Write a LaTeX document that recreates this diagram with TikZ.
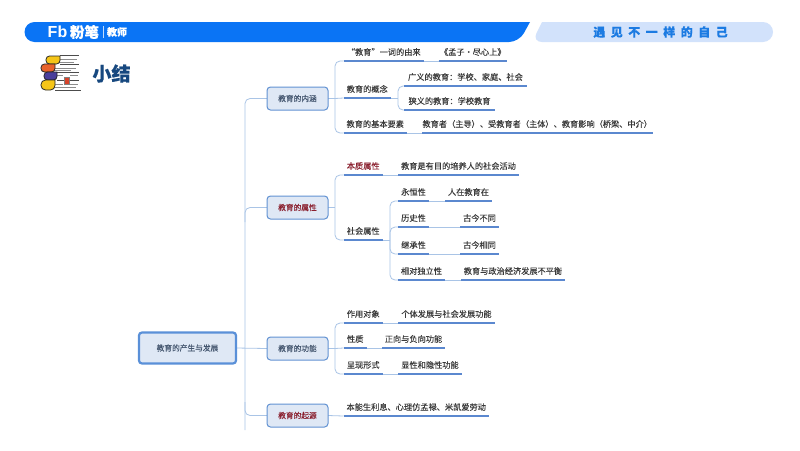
\documentclass[tikz,border=0pt]{standalone}
\usepackage{fontspec}
\setmainfont{Noto Sans CJK SC}[FakeBold=0.2]
\newfontfamily\latinbold{Liberation Sans}
\usetikzlibrary{calc}
\pgfdeclarelayer{connlayer}
\pgfsetlayers{connlayer,main}
\definecolor{brandblue}{HTML}{0A74F5}
\definecolor{lightbar}{HTML}{D2E2FB}
\definecolor{slogan}{HTML}{1C7BE2}
\definecolor{titleblue}{HTML}{17487F}
\definecolor{boxfill}{HTML}{DFE8F5}
\definecolor{boxline}{HTML}{6292D2}
\definecolor{rootline}{HTML}{5A90D8}
\definecolor{connline}{HTML}{A9C4E6}
\definecolor{uline}{HTML}{5B88CF}
\definecolor{leaftext}{HTML}{3A3A3A}
\definecolor{boxtext}{HTML}{44566F}
\definecolor{redtext}{HTML}{8A1F2E}
\definecolor{bookyellow}{HTML}{F5C518}
\definecolor{bookorange}{HTML}{E8622A}
\definecolor{bookpurple}{HTML}{4A3F9B}
\definecolor{bookred}{HTML}{D8432A}
\tikzset{
  x=1pt,y=-1pt,
  every node/.style={inner sep=0pt,outer sep=0pt},
  rootbox/.style={draw=rootline,line width=2.2pt,fill=boxfill,rounded corners=3pt,minimum width=97pt,minimum height=31pt,font=\fontsize{7.7}{9}\selectfont,text=boxtext},
  innerbox/.style={draw=boxline,line width=1pt,fill=boxfill,rounded corners=3.5pt,minimum width=61pt,minimum height=23pt,font=\fontsize{7.7}{9}\selectfont,text=boxtext},
  leafnode/.style={anchor=south west,minimum height=18pt,font=\fontsize{8.2}{10}\selectfont,text=leaftext},
  under/.style={draw=uline,line width=1.5pt},
  conn/.style={draw=connline,line width=0.8pt,rounded corners=5pt},
  pageline/.style={draw=black!70,line width=0.9pt},
  pagelight/.style={draw=black!45,line width=0.8pt},
  bookout/.style={draw=black!85,line width=0.8pt}
}
\newcommand{\leaf}[6][]{%
  \node[leafnode,minimum width=#4pt-#3pt,#1] (#2) at (#3,#5) {#6};
  \draw[under] (#2.south west) -- (#2.south east);
}
\begin{document}
\begin{tikzpicture}
\useasboundingbox (0,0) rectangle (800,450);
\begin{pgfonlayer}{connlayer}
\fill[white] (0,0) rectangle (800,450);
\end{pgfonlayer}
% header
\fill[brandblue] (530,22) [rounded corners=10pt] -- (24.5,22) -- (24.5,42) -- (519,42) [sharp corners] -- cycle;
\fill[lightbar] (542,22) [rounded corners=10pt] -- (773,22) -- (773,42) -- (532,42) [sharp corners] -- cycle;
\node[text=white,font=\latinbold\bfseries\fontsize{16}{16}\selectfont] (logoa) at (57.5,32) {Fb};
\node[text=white,font=\bfseries\fontsize{14.5}{14.5}\selectfont] (logob) at (84.5,32) {粉笔};
\node[fill=white!75!brandblue,minimum width=0.7pt,minimum height=12pt] (logoc) at (103,32) {};
\node[text=white,font=\bfseries\fontsize{10}{10}\selectfont] (logod) at (117,32) {教师};
\node[text=slogan,font=\bfseries\fontsize{12}{13}\selectfont] (slogan) at (660.5,32) {遇\hspace{5.5pt}见\hspace{5.5pt}不\hspace{5.5pt}一\hspace{5.5pt}样\hspace{5.5pt}的\hspace{5.5pt}自\hspace{5.5pt}己};
% icon
\draw[pagelight] (58,59)--(77,59) (58,62)--(74,62) (54,68)--(76,68) (54,70)--(71,70) (57,75)--(63,75) (70,75)--(78,75) (54,84)--(63,84) (70,84)--(78,84) (54,87)--(76,87);
\draw[pageline] (60,55.5)--(79,55.5) (60,64)--(79,64) (56,72)--(79,72) (57,80)--(79,80) (55,90)--(81,90);
\draw[bookout,fill=bookyellow] (60,56) [rounded corners=3.5pt] -- (46,56) -- (46,64) -- (60,64) [sharp corners] -- cycle;
\draw[bookout,fill=bookorange] (55,64) [rounded corners=3.5pt] -- (41,64) -- (41,72) -- (55,72) [sharp corners] -- cycle;
\draw[bookout,fill=bookpurple] (57,72) [rounded corners=3.5pt] -- (44,72) -- (44,80) -- (57,80) [sharp corners] -- cycle;
\draw[bookout,fill=bookyellow] (55,80) [rounded corners=4.5pt] -- (41,80) -- (41,90) -- (55,90) [sharp corners] -- cycle;
\draw[draw=black!50,fill=bookred,line width=0.8pt] (64,77.5) rectangle (69.5,84);
\node[text=titleblue,font=\bfseries\fontsize{19}{19}\selectfont] (title) at (111.5,73.5) {小结};
% boxes
\node[rootbox] (root) at (187.5,348) {教育的产生与发展};
\node[innerbox] (nei) at (297.5,98.5) {教育的内涵};
\node[innerbox,text=redtext] (shu) at (297.5,207.5) {教育的属性};
\node[innerbox] (gong) at (297.5,348.5) {教育的功能};
\node[innerbox,text=redtext] (qi) at (297.5,415.5) {教育的起源};
% leaves: inner
\leaf{a}{343.5}{424}{61}{“教育”一词的由来}
\leaf{aa}{438.5}{507}{61}{《孟子·尽心上》}
\leaf{b}{343.5}{391}{98}{教育的概念}
\leaf{ba}{404}{527}{86}{广义的教育：学校、家庭、社会}
\leaf{bb}{404}{495}{110}{狭义的教育：学校教育}
\leaf{c}{343.5}{407}{133}{教育的基本要素}
\leaf{ca}{422}{652.5}{133}{教育者（主导）、受教育者（主体）、教育影响（桥梁、中介）}
% leaves: properties
\leaf[text=redtext]{d}{343.5}{383}{175}{本质属性}
\leaf{da}{398}{519}{175}{教育是有目的培养人的社会活动}
\leaf{e}{343.5}{383}{240}{社会属性}
\leaf{ea}{398}{429}{201}{永恒性}
\leaf{eaa}{445}{492}{201}{人在教育在}
\leaf{eb}{398}{429}{227}{历史性}
\leaf{eba}{460}{499}{227}{古今不同}
\leaf{ec}{398}{429}{254}{继承性}
\leaf{eca}{460}{499}{254}{古今相同}
\leaf{ed}{398}{445}{280}{相对独立性}
\leaf{eda}{461}{565}{280}{教育与政治经济发展不平衡}
% leaves: functions
\leaf{f}{343.5}{383}{323}{作用对象}
\leaf{fa}{398}{495}{323}{个体发展与社会发展功能}
\leaf{g}{343.5}{367}{348}{性质}
\leaf{ga}{382}{445}{348}{正向与负向功能}
\leaf{h}{343.5}{383}{374}{呈现形式}
\leaf{ha}{398}{462}{374}{显性和隐性功能}
\leaf{i}{343.5}{489}{416}{本能生利息、心理仿孟禄、米凯爱劳动}
% connectors
\coordinate (trunkend) at (245,430);
\coordinate (trunkup) at (245,222);
\coordinate (trunklow) at (245,402);
\coordinate (j1) at ($(nei.east)+(7,0)$);
\coordinate (j2) at ($(b.south east)+(7,0)$);
\coordinate (j3) at ($(shu.east)+(7,0)$);
\coordinate (j4) at ($(e.south east)+(7,0)$);
\coordinate (j5) at ($(gong.east)+(7,0)$);
\begin{pgfonlayer}{connlayer}
\draw[conn] (nei.west) -| (trunkend);
\draw[conn] (shu.west) -| (trunkup);
\draw[conn] (qi.west) -| (trunklow);
\draw[conn] (root.east) -- (gong.west);
\draw[conn] (nei.east) -- (j1);
\draw[conn] (a.south west) -| (j1) |- (c.south west);
\draw[conn] (j1) -- (b.south west);
\draw[conn] (a.south east) -- (aa.south west);
\draw[conn] (c.south east) -- (ca.south west);
\draw[conn] (b.south east) -- (j2);
\draw[conn] (ba.south west) -| (j2) |- (bb.south west);
\draw[conn] (shu.east) -- (j3);
\draw[conn] (d.south west) -| (j3) |- (e.south west);
\draw[conn] (d.south east) -- (da.south west);
\draw[conn] (e.south east) -- (j4);
\draw[conn] (ea.south west) -| (j4) |- (ed.south west);
\draw[conn] (j4) |- (eb.south west);
\draw[conn] (j4) |- (ec.south west);
\draw[conn] (ea.south east) -- (eaa.south west);
\draw[conn] (eb.south east) -- (eba.south west);
\draw[conn] (ec.south east) -- (eca.south west);
\draw[conn] (ed.south east) -- (eda.south west);
\draw[conn] (gong.east) -- (j5);
\draw[conn] (f.south west) -| (j5) |- (h.south west);
\draw[conn] (j5) -- (g.south west);
\draw[conn] (f.south east) -- (fa.south west);
\draw[conn] (g.south east) -- (ga.south west);
\draw[conn] (h.south east) -- (ha.south west);
\draw[conn] (qi.east) -- (i.south west);
\end{pgfonlayer}
\end{tikzpicture}
\end{document}
